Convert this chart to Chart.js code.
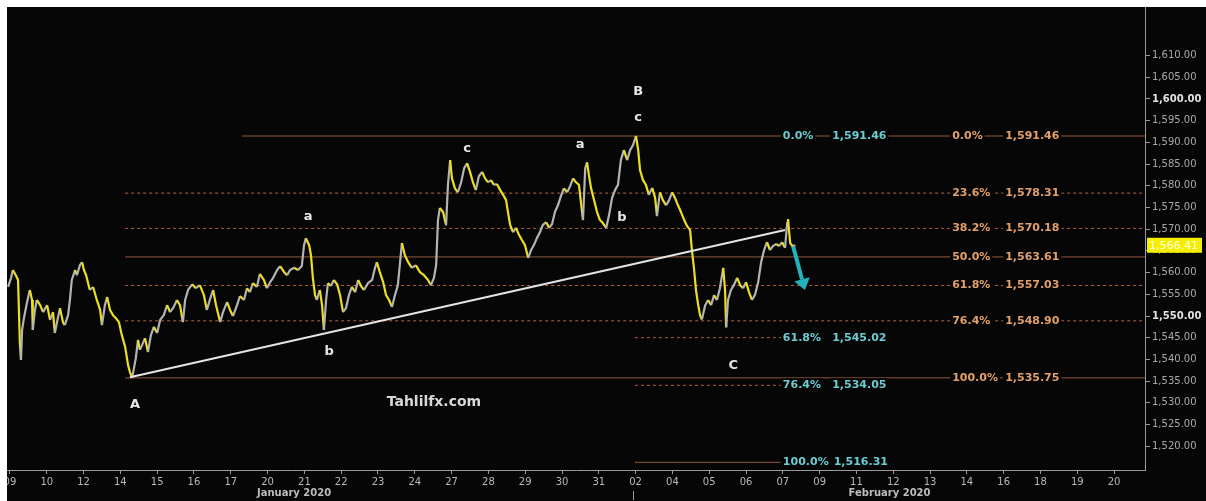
<!DOCTYPE html>
<html>
<head>
<meta charset="utf-8">
<script src="https://cdn.jsdelivr.net/npm/chart.js@4.4.1/dist/chart.umd.min.js"></script>
<style>
  body { margin: 0; background: #fff; }
  #wrap { position: absolute; left: 7px; top: 7px; width: 1199px; height: 494px; background: #060606; }
</style>
</head>
<body>
<div id="wrap"><canvas id="chart" width="1199" height="494"></canvas></div>
<script>
// x values are trading-day positions (0 = "09" Jan)
const dayLabels = ['09', '10', '12', '14', '15', '16', '17', '20', '21', '22', '23', '24', '27', '28', '29', '30', '31',
    '02', '04', '05', '06', '07', '09', '11', '12', '13', '14', '16', '18', '19', '20'];
const months = ['January 2020', 'February 2020'];
const monthAt = [7.72, 23.9];
const monthSplit = 16.93;

const yTicks = [1520, 1525, 1530, 1535, 1540, 1545, 1550, 1555, 1560, 1565, 1570, 1575, 1580, 1585, 1590, 1595, 1600, 1605, 1610];

const priceX = [-0.05, 0.03, 0.08, 0.16, 0.22, 0.27, 0.30, 0.33, 0.38, 0.46, 0.54, 0.60, 0.62, 0.68, 0.73, 0.82, 0.90, 1.01, 1.09, 1.17,
    1.22, 1.30, 1.36, 1.44, 1.49, 1.58, 1.63, 1.68, 1.77, 1.82, 1.90, 1.96, 2.01, 2.07, 2.17, 2.26, 2.36, 2.45, 2.50, 2.58,
    2.64, 2.72, 2.80, 2.88, 2.96, 3.04, 3.13, 3.21, 3.26, 3.32, 3.37, 3.42, 3.48, 3.53, 3.59, 3.67, 3.75, 3.83, 3.91, 4.00,
    4.08, 4.18, 4.27, 4.35, 4.43, 4.54, 4.62, 4.70, 4.76, 4.84, 4.95, 5.05, 5.16, 5.27, 5.35, 5.43, 5.52, 5.60, 5.71, 5.79,
    5.90, 5.98, 6.06, 6.17, 6.25, 6.36, 6.44, 6.52, 6.60, 6.71, 6.79, 6.90, 6.98, 7.07, 7.15, 7.26, 7.34, 7.45, 7.53, 7.61,
    7.72, 7.83, 7.93, 7.99, 8.04, 8.13, 8.18, 8.23, 8.29, 8.34, 8.42, 8.48, 8.53, 8.59, 8.64, 8.72, 8.80, 8.89, 8.97, 9.05,
    9.13, 9.21, 9.29, 9.38, 9.46, 9.54, 9.62, 9.73, 9.84, 9.92, 9.97, 10.05, 10.14, 10.22, 10.30, 10.38, 10.46, 10.54, 10.60, 10.65,
    10.73, 10.82, 10.92, 11.03, 11.14, 11.25, 11.36, 11.44, 11.52, 11.58, 11.63, 11.68, 11.77, 11.85, 11.90, 11.96, 12.01, 12.09, 12.17, 12.26,
    12.34, 12.42, 12.50, 12.58, 12.66, 12.74, 12.83, 12.91, 12.99, 13.07, 13.15, 13.23, 13.32, 13.40, 13.48, 13.53, 13.59, 13.67, 13.75, 13.83,
    13.91, 13.99, 14.08, 14.16, 14.24, 14.32, 14.40, 14.48, 14.57, 14.65, 14.73, 14.81, 14.89, 14.97, 15.05, 15.14, 15.22, 15.30, 15.38, 15.46,
    15.57, 15.63, 15.68, 15.73, 15.79, 15.87, 15.95, 16.03, 16.11, 16.20, 16.28, 16.36, 16.44, 16.52, 16.60, 16.68, 16.77, 16.85, 16.93, 17.01,
    17.07, 17.12, 17.20, 17.28, 17.36, 17.45, 17.53, 17.58, 17.66, 17.74, 17.83, 17.91, 17.99, 18.07, 18.15, 18.23, 18.32, 18.40, 18.48, 18.53,
    18.59, 18.64, 18.70, 18.75, 18.80, 18.89, 18.97, 19.05, 19.13, 19.21, 19.29, 19.38, 19.43, 19.46, 19.51, 19.59, 19.67, 19.76, 19.84, 19.92,
    20.00, 20.08, 20.16, 20.24, 20.33, 20.41, 20.49, 20.57, 20.65, 20.73, 20.82, 20.90, 20.98, 21.06, 21.12, 21.14, 21.20, 21.28, 21.33];
const priceY = [1556.7, 1558.8, 1560.6, 1559.4, 1558.3, 1543.8, 1539.9, 1546.8, 1549.5, 1553.0, 1556.0, 1553.7, 1546.8, 1551.4, 1553.7, 1552.5, 1550.9, 1552.5, 1549.1, 1550.9,
    1546.1, 1549.5, 1551.8, 1548.6, 1547.9, 1550.2, 1553.7, 1558.3, 1560.6, 1559.4, 1561.7, 1562.4, 1560.6, 1559.4, 1556.0, 1556.7, 1553.7, 1551.4, 1547.9, 1552.5,
    1554.4, 1551.4, 1550.2, 1549.5, 1548.6, 1545.6, 1542.9, 1538.7, 1537.1, 1535.75, 1538.0, 1540.3, 1544.5, 1542.2, 1543.3, 1544.9, 1541.7, 1545.6, 1547.5, 1546.1,
    1549.1, 1550.2, 1552.5, 1550.9, 1551.8, 1553.7, 1552.5, 1548.6, 1553.7, 1556.0, 1557.3, 1556.4, 1557.1, 1554.8, 1551.4, 1553.7, 1556.0, 1552.5, 1548.6, 1550.9,
    1553.2, 1551.4, 1550.0, 1552.5, 1554.6, 1553.7, 1556.4, 1555.5, 1557.6, 1556.7, 1559.7, 1558.3, 1556.4, 1557.8, 1558.8, 1560.6, 1561.5, 1560.1, 1559.4, 1560.6,
    1561.1, 1560.6, 1561.5, 1566.3, 1567.9, 1566.3, 1564.0, 1558.8, 1554.8, 1553.7, 1556.0, 1552.5, 1546.8, 1553.7, 1557.6, 1556.9, 1558.3, 1557.3, 1554.8, 1550.9,
    1551.8, 1554.8, 1556.7, 1555.5, 1558.3, 1556.9, 1556.0, 1557.6, 1558.3, 1561.1, 1562.4, 1560.1, 1557.8, 1554.8, 1553.7, 1552.1, 1554.8, 1557.1, 1562.4, 1566.8,
    1564.0, 1562.4, 1561.1, 1561.7, 1560.1, 1559.4, 1558.3, 1557.1, 1558.8, 1561.7, 1572.1, 1574.9, 1573.9, 1570.9, 1580.1, 1585.9, 1581.7, 1579.4, 1578.5, 1580.8,
    1584.0, 1585.2, 1583.2, 1580.8, 1579.0, 1582.2, 1583.2, 1581.7, 1580.8, 1581.3, 1580.2, 1580.4, 1579.0, 1577.9, 1576.7, 1574.0, 1571.0, 1569.3, 1570.3, 1568.7,
    1567.5, 1566.4, 1563.4, 1565.2, 1566.4, 1568.0, 1569.3, 1571.0, 1571.6, 1570.3, 1571.2, 1574.0, 1575.5, 1577.6, 1579.4, 1578.5, 1579.9, 1581.7, 1580.8, 1580.2,
    1572.1, 1584.0, 1585.4, 1582.5, 1579.4, 1576.7, 1574.0, 1572.1, 1571.4, 1570.3, 1573.3, 1577.2, 1579.0, 1580.2, 1585.9, 1588.2, 1585.9, 1588.2, 1589.4, 1591.46,
    1588.2, 1583.6, 1581.3, 1580.2, 1577.9, 1579.5, 1577.2, 1573.0, 1578.5, 1576.7, 1575.5, 1576.7, 1578.5, 1577.2, 1575.5, 1574.0, 1572.1, 1570.7, 1569.8, 1565.2,
    1560.6, 1556.0, 1552.5, 1550.2, 1549.2, 1552.5, 1553.7, 1552.5, 1554.8, 1553.7, 1556.4, 1561.1, 1556.0, 1547.4, 1553.7, 1556.0, 1557.1, 1558.8, 1557.1, 1556.4,
    1557.8, 1555.5, 1553.7, 1554.8, 1557.8, 1562.4, 1565.2, 1567.0, 1565.2, 1566.1, 1566.6, 1566.1, 1567.0, 1565.7, 1571.6, 1572.3, 1566.8, 1565.9, 1566.41];
const lastPrice = 1566.41;

// trend line A -> break point
const trendX = [3.26, 21.06];
const trendY = [1535.9, 1569.8];

// retracement B -> A (orange) and extension (teal)
const fibPct = ['0.0%', '23.6%', '38.2%', '50.0%', '61.8%', '76.4%', '100.0%'];
const fibVals = [1591.46, 1578.31, 1570.18, 1563.61, 1557.03, 1548.90, 1535.75];
const extPct = ['0.0%', '61.8%', '76.4%', '100.0%'];
const extVals = [1591.46, 1545.02, 1534.05, 1516.31];

const waveLabels = [
    { t: 'A', x: 3.40, y: 1529.7 },
    { t: 'a', x: 8.10, y: 1573.0 },
    { t: 'b', x: 8.67, y: 1541.7 },
    { t: 'c', x: 12.42, y: 1588.6 },
    { t: 'a', x: 15.49, y: 1589.5 },
    { t: 'b', x: 16.63, y: 1572.6 },
    { t: 'B', x: 17.07, y: 1601.6 },
    { t: 'c', x: 17.07, y: 1595.8 },
    { t: 'C', x: 19.65, y: 1538.5 }
];

const X_MIN = -0.08, X_MAX = 30.84;
const BG = '#060606';
const YELLOW = '#ece01e';
const GREY = '#b4b4b4';
const BROWN = '#95593b';
const DASH = '#b4603f';
const ORANGE = '#e3a06a';
const TEAL = '#6ccbd3';
const AXIS = '#9a9a9a';

Chart.defaults.font.family = '"DejaVu Sans", sans-serif';

function fmt(v) {
    return v.toLocaleString('en-US', { minimumFractionDigits: 2, maximumFractionDigits: 2 });
}

const solid = ['0.0%', '50.0%', '100.0%'];
const fibSets = fibVals.map((v, i) => ({
    data: [{ x: i === 0 ? 6.3 : 3.13, y: v }, { x: X_MAX, y: v }],
    borderColor: solid.includes(fibPct[i]) ? BROWN : DASH,
    borderWidth: 1,
    borderDash: solid.includes(fibPct[i]) ? [] : [3, 3],
    pointRadius: 0,
    order: 5
}));
const extSets = extVals.slice(1).map((v, i) => ({
    data: [{ x: 16.98, y: v }, { x: 20.98, y: v }],
    borderColor: extPct[i + 1] === '100.0%' ? BROWN : DASH,
    borderWidth: 1,
    borderDash: extPct[i + 1] === '100.0%' ? [] : [3, 3],
    pointRadius: 0,
    order: 5
}));

const overlay = {
    id: 'overlay',
    afterDatasetsDraw(chart) {
        const { ctx, scales: { x, y } } = chart;
        ctx.save();
        ctx.textBaseline = 'middle';
        ctx.font = 'bold 11px "DejaVu Sans"';
        function boxText(txt, px, py, color) {
            const w = ctx.measureText(txt).width;
            ctx.fillStyle = BG;
            ctx.fillRect(px - 2, py - 7, w + 4, 14);
            ctx.fillStyle = color;
            ctx.textAlign = 'left';
            ctx.fillText(txt, px, py);
            return px + w;
        }
        fibPct.forEach((p, i) => {
            const py = y.getPixelForValue(fibVals[i]);
            boxText(p, x.getPixelForValue(25.6), py, ORANGE);
            boxText(fmt(fibVals[i]), x.getPixelForValue(27.04), py, ORANGE);
        });
        extPct.forEach((p, i) => {
            const py = y.getPixelForValue(extVals[i]);
            const end = boxText(p, x.getPixelForValue(21.0), py, TEAL);
            boxText(fmt(extVals[i]), Math.max(x.getPixelForValue(22.34), end + 5), py, TEAL);
        });

        // wave labels
        ctx.font = 'bold 13px "DejaVu Sans"';
        ctx.textAlign = 'center';
        ctx.fillStyle = '#e6e6e6';
        waveLabels.forEach(l => ctx.fillText(l.t, x.getPixelForValue(l.x), y.getPixelForValue(l.y)));
        ctx.font = 'bold 14px "DejaVu Sans"';
        ctx.fillStyle = '#d8d8d8';
        ctx.fillText('Tahlilfx.com', x.getPixelForValue(11.52), y.getPixelForValue(1530.2));

        // projected move arrow
        const x0 = x.getPixelForValue(21.28), y0 = y.getPixelForValue(1566.0);
        const x1 = x.getPixelForValue(21.6), y1 = y.getPixelForValue(1556.0);
        const ang = Math.atan2(y1 - y0, x1 - x0);
        const hx = x1 - Math.cos(ang) * 11, hy = y1 - Math.sin(ang) * 11;
        ctx.strokeStyle = '#22b3bc';
        ctx.fillStyle = '#22b3bc';
        ctx.lineWidth = 4;
        ctx.beginPath();
        ctx.moveTo(x0, y0);
        ctx.lineTo(hx, hy);
        ctx.stroke();
        ctx.beginPath();
        ctx.moveTo(x1, y1);
        ctx.lineTo(hx + Math.sin(ang) * 8, hy - Math.cos(ang) * 8);
        ctx.lineTo(hx - Math.sin(ang) * 8, hy + Math.cos(ang) * 8);
        ctx.closePath();
        ctx.fill();
        ctx.restore();
    },
    afterDraw(chart) {
        const { ctx, scales: { x, y }, chartArea } = chart;
        ctx.save();
        // last price tag
        const py = y.getPixelForValue(lastPrice);
        ctx.fillStyle = '#f4ef00';
        ctx.fillRect(chartArea.right + 2, py - 7, 55, 15);
        ctx.fillStyle = '#fffde8';
        ctx.font = '11px "DejaVu Sans"';
        ctx.textAlign = 'left';
        ctx.textBaseline = 'middle';
        ctx.fillText(fmt(lastPrice), chartArea.right + 4, py + 1);
        // month labels
        ctx.font = 'bold 10px "DejaVu Sans"';
        ctx.textAlign = 'center';
        ctx.fillStyle = '#bdbdbd';
        months.forEach((m, i) => ctx.fillText(m, x.getPixelForValue(monthAt[i]), chartArea.bottom + 23));
        const sx = Math.round(x.getPixelForValue(monthSplit)) + 0.5;
        ctx.strokeStyle = AXIS;
        ctx.lineWidth = 1;
        ctx.beginPath();
        ctx.moveTo(sx, chartArea.bottom + 21);
        ctx.lineTo(sx, chartArea.bottom + 30);
        ctx.stroke();
        ctx.restore();
    }
};

new Chart(document.getElementById('chart'), {
    type: 'line',
    data: {
        datasets: [
            {
                data: trendX.map((d, i) => ({ x: d, y: trendY[i] })),
                borderColor: '#e4e4e4',
                borderWidth: 2,
                pointRadius: 0,
                order: 0
            },
            {
                data: priceX.map((d, i) => ({ x: d, y: priceY[i] })),
                borderWidth: 2.2,
                borderJoinStyle: 'bevel',
                pointRadius: 0,
                segment: {
                    borderColor: c => c.p1.parsed.y < c.p0.parsed.y ? YELLOW : GREY
                },
                borderColor: YELLOW,
                order: 1
            },
            ...fibSets,
            ...extSets
        ]
    },
    options: {
        responsive: false,
        animation: false,
        layout: { padding: 0 },
        plugins: { legend: { display: false }, tooltip: { enabled: false } },
        scales: {
            x: {
                type: 'linear',
                min: X_MIN,
                max: X_MAX,
                afterBuildTicks: s => { s.ticks = dayLabels.map((l, i) => ({ value: i })); },
                afterFit: s => { s.height = 31; s.paddingLeft = 0; s.paddingRight = 0; },
                ticks: {
                    autoSkip: false,
                    maxRotation: 0,
                    padding: 2,
                    color: '#b8b8b8',
                    font: { size: 10 },
                    callback: v => dayLabels[v]
                },
                grid: { drawOnChartArea: false, tickLength: 4, color: AXIS },
                border: { color: AXIS }
            },
            y: {
                position: 'right',
                min: 1514.54,
                max: 1621.17,
                afterBuildTicks: s => { s.ticks = yTicks.map(v => ({ value: v })); },
                afterFit: s => { s.width = 61; s.paddingTop = 0; s.paddingBottom = 0; },
                ticks: {
                    padding: 2,
                    color: c => c.tick && c.tick.value % 50 === 0 ? '#e2e2e2' : '#a9a9a9',
                    font: c => ({ size: 10, weight: c.tick && c.tick.value % 50 === 0 ? 'bold' : 'normal' }),
                    callback: v => fmt(v)
                },
                grid: { drawOnChartArea: false, tickLength: 5, color: AXIS },
                border: { color: AXIS }
            }
        }
    },
    plugins: [overlay]
});
</script>
</body>
</html>
